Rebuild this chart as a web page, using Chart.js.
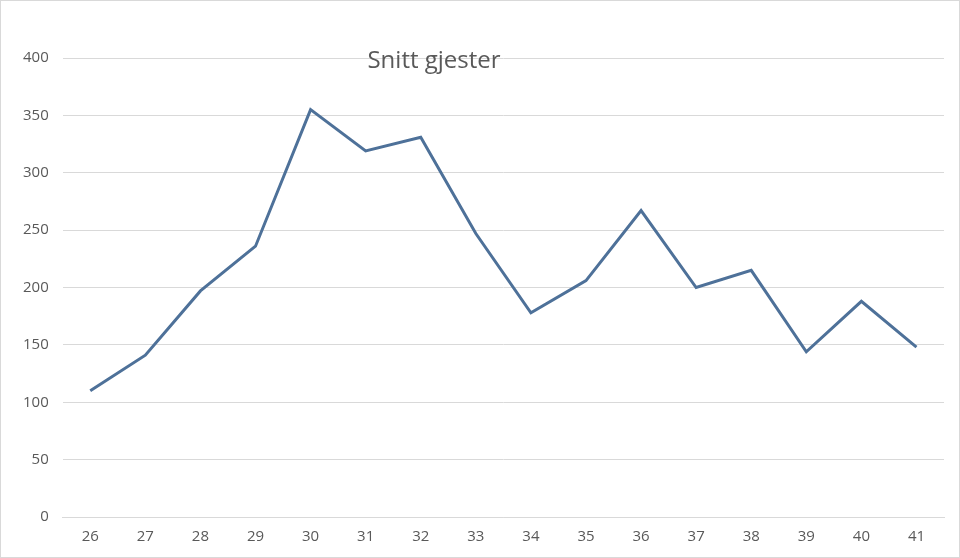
<!doctype html>
<html lang="en">
<head>
  <meta charset="utf-8" />
  <title>Snitt gjester</title>
  <script src="https://cdn.jsdelivr.net/npm/chart.js"></script>
  <style>
    html, body { margin: 0; padding: 0; background: #fff; }
    .frame { width: 958px; height: 556px; border: 1px solid #d9d9d9; }
  </style>
</head>
<body>
  <div class="frame"><canvas id="chart" width="958" height="556"></canvas></div>
  <script>
    // week numbers and average guests
    const weeks = ['26', '27', '28', '29', '30', '31', '32', '33', '34', '35', '36', '37', '38', '39', '40', '41'];
    const guests = [110, 141, 197, 236, 355, 319, 331, 247, 178, 206, 267, 200, 215, 144, 188, 148];
    const yTicks = [0, 50, 100, 150, 200, 250, 300, 350, 400];

    // title sits inside the plot like the original
    const titlePlugin = {
      id: 'insideTitle',
      afterDraw(chart) {
        const ctx = chart.ctx;
        ctx.save();
        ctx.font = '24px "Open Sans", sans-serif';
        ctx.fillStyle = '#595959';
        ctx.textAlign = 'center';
        ctx.textBaseline = 'middle';
        ctx.fillText('Snitt gjester', 433, 60);
        ctx.restore();
      }
    };

    new Chart(document.getElementById('chart').getContext('2d'), {
      type: 'line',
      data: {
        labels: weeks,
        datasets: [{
          data: guests,
          borderColor: '#4e7199',
          borderWidth: 3,
          pointRadius: 0,
          tension: 0,
          fill: false
        }]
      },
      options: {
        responsive: false,
        animation: false,
        layout: { padding: { top: 57, right: 15, left: 8, bottom: 8 } },
        plugins: { legend: { display: false }, tooltip: { enabled: false } },
        scales: {
          x: {
            offset: true,
            grid: { display: false },
            border: { color: '#d9d9d9' },
            ticks: { color: '#595959', font: { size: 15, family: '"Open Sans", sans-serif' } }
          },
          y: {
            min: 0,
            max: 400,
            afterBuildTicks(axis) { axis.ticks = yTicks.map(v => ({ value: v })); },
            grid: { color: '#d9d9d9', drawTicks: false },
            border: { display: false },
            ticks: { color: '#595959', padding: 14, font: { size: 15, family: '"Open Sans", sans-serif' } }
          }
        }
      },
      plugins: [titlePlugin]
    });
  </script>
</body>
</html>
